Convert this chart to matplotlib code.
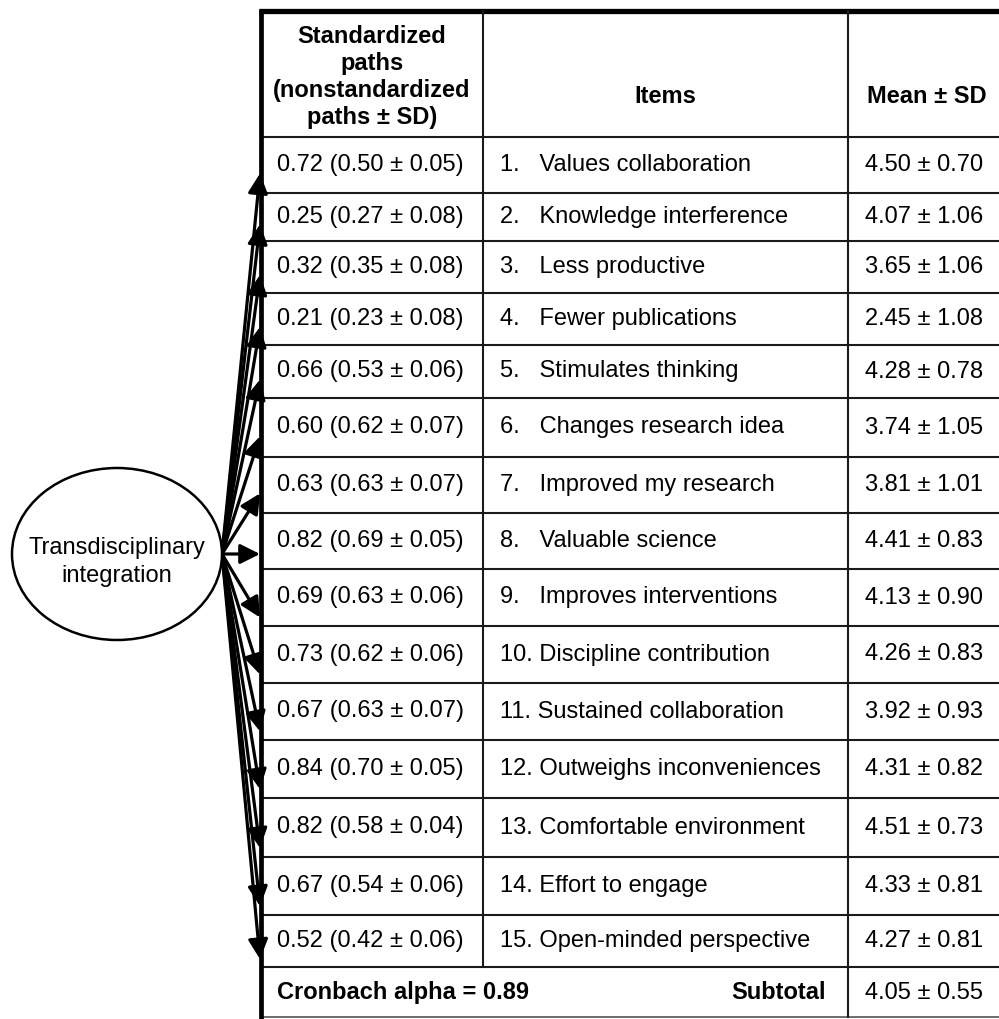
import matplotlib
matplotlib.use("Agg")
import matplotlib.pyplot as plt
from matplotlib.patches import Ellipse

plt.rcParams['font.family'] = ['Liberation Sans', 'DejaVu Sans']

# ---- data ----
std_paths = [0.72, 0.25, 0.32, 0.21, 0.66, 0.60, 0.63, 0.82, 0.69, 0.73, 0.67, 0.84, 0.82, 0.67, 0.52]
nonstd_paths = [0.50, 0.27, 0.35, 0.23, 0.53, 0.62, 0.63, 0.69, 0.63, 0.62, 0.63, 0.70, 0.58, 0.54, 0.42]
path_sd = [0.05, 0.08, 0.08, 0.08, 0.06, 0.07, 0.07, 0.05, 0.06, 0.06, 0.07, 0.05, 0.04, 0.06, 0.06]
items = ["Values collaboration", "Knowledge interference", "Less productive",
         "Fewer publications", "Stimulates thinking", "Changes research idea",
         "Improved my research", "Valuable science", "Improves interventions",
         "Discipline contribution", "Sustained collaboration", "Outweighs inconveniences",
         "Comfortable environment", "Effort to engage", "Open-minded perspective"]
item_mean = [4.50, 4.07, 3.65, 2.45, 4.28, 3.74, 3.81, 4.41, 4.13, 4.26, 3.92, 4.31, 4.51, 4.33, 4.27]
item_sd = [0.70, 1.06, 1.06, 1.08, 0.78, 1.05, 1.01, 0.83, 0.90, 0.83, 0.93, 0.82, 0.73, 0.81, 0.81]
cronbach_alpha = 0.89
subtotal_mean, subtotal_sd = 4.05, 0.55
latent_label = "Transdisciplinary\nintegration"
headers = ["Standardized\npaths\n(nonstandardized\npaths ± SD)", "Items", "Mean ± SD"]

# ---- layout (pixels) ----
W, H = 999, 1019
fig = plt.figure(figsize=(W / 100, H / 100), dpi=100)
ax = fig.add_axes([0, 0, 1, 1])
ax.set_xlim(0, W)
ax.set_ylim(H, 0)
ax.axis('off')

x_left, x_c1, x_c2, x_right = 261, 483, 848, 999
y_top, y_head = 11, 137
row_edges = [137, 193, 241, 293, 345, 398, 457, 513, 569, 626, 683, 740, 798, 857, 915, 967, 1017]
fs = 17
lc = '#1a1a1a'
base_off = 7  # baseline offset below row centre

def row_text(x, yc, s, **kw):
    ax.text(x, yc + base_off, s, va='baseline', fontsize=fs, **kw)

# horizontal lines
ax.plot([x_left - 2, x_right], [y_top, y_top], color='black', lw=3.8, solid_capstyle='butt')
for y in row_edges[:-1]:
    ax.plot([x_left, x_right], [y, y], color=lc, lw=1.5)
ax.plot([x_left, x_right], [row_edges[-1], row_edges[-1]], color='#555555', lw=1.2)
# vertical lines
ax.plot([x_left, x_left], [y_top - 2, H], color='black', lw=3.4, solid_capstyle='butt')
ax.plot([x_c1, x_c1], [y_top, row_edges[-2]], color=lc, lw=1.5)
ax.plot([x_c2, x_c2], [y_top, row_edges[-1]], color=lc, lw=1.5)

# headers
ax.text((x_left + x_c1) / 2, 77, headers[0], ha='center', va='center', fontsize=fs,
        fontweight='bold', linespacing=1.24)
ax.text((x_c1 + x_c2) / 2, 96, headers[1], ha='center', va='center', fontsize=fs, fontweight='bold')
ax.text((x_c2 + x_right) / 2 + 3, 96, headers[2], ha='center', va='center', fontsize=fs, fontweight='bold')

# rows
for i in range(15):
    yc = (row_edges[i] + row_edges[i + 1]) / 2 - 1
    row_text(277, yc, f"{std_paths[i]:.2f} ({nonstd_paths[i]:.2f} ± {path_sd[i]:.2f})", ha='left')
    n = i + 1
    gap = "   " if n < 10 else " "
    row_text(500, yc, f"{n}.{gap}{items[i]}", ha='left')
    row_text(865, yc, f"{item_mean[i]:.2f} ± {item_sd[i]:.2f}", ha='left')

# subtotal row
ys = (row_edges[-2] + row_edges[-1]) / 2
row_text(277, ys, f"Cronbach alpha = {cronbach_alpha:.2f}", ha='left', fontweight='bold')
row_text(826, ys, "Subtotal", ha='right', fontweight='bold')
row_text(865, ys, f"{subtotal_mean:.2f} ± {subtotal_sd:.2f}", ha='left')

# latent variable ellipse
ex, ey, ew, eh = 117, 554, 210, 172
ax.add_patch(Ellipse((ex, ey), ew, eh, facecolor='white', edgecolor='black', lw=1.8, zorder=3))
ax.text(ex, ey + 8, latent_label, ha='center', va='center', fontsize=fs, linespacing=1.32, zorder=4)

# arrows from the ellipse to each row
ox, oy = ex + ew / 2, ey
for i in range(15):
    y0, y1 = row_edges[i], row_edges[i + 1]
    yc = (y0 + y1) / 2
    if abs(yc - oy) < (y1 - y0) / 2:
        ty = oy
    elif yc < oy:
        ty = yc + 0.15 * (y1 - y0)
    else:
        ty = yc + 0.35 * (y1 - y0)
    ax.annotate("", xy=(x_left - 1, ty), xytext=(ox, oy),
                arrowprops=dict(arrowstyle='-|>,head_length=0.6,head_width=0.3',
                                lw=2.3, color='black', mutation_scale=20,
                                shrinkA=0, shrinkB=0), zorder=2)

fig.savefig("out.png", dpi=100)
